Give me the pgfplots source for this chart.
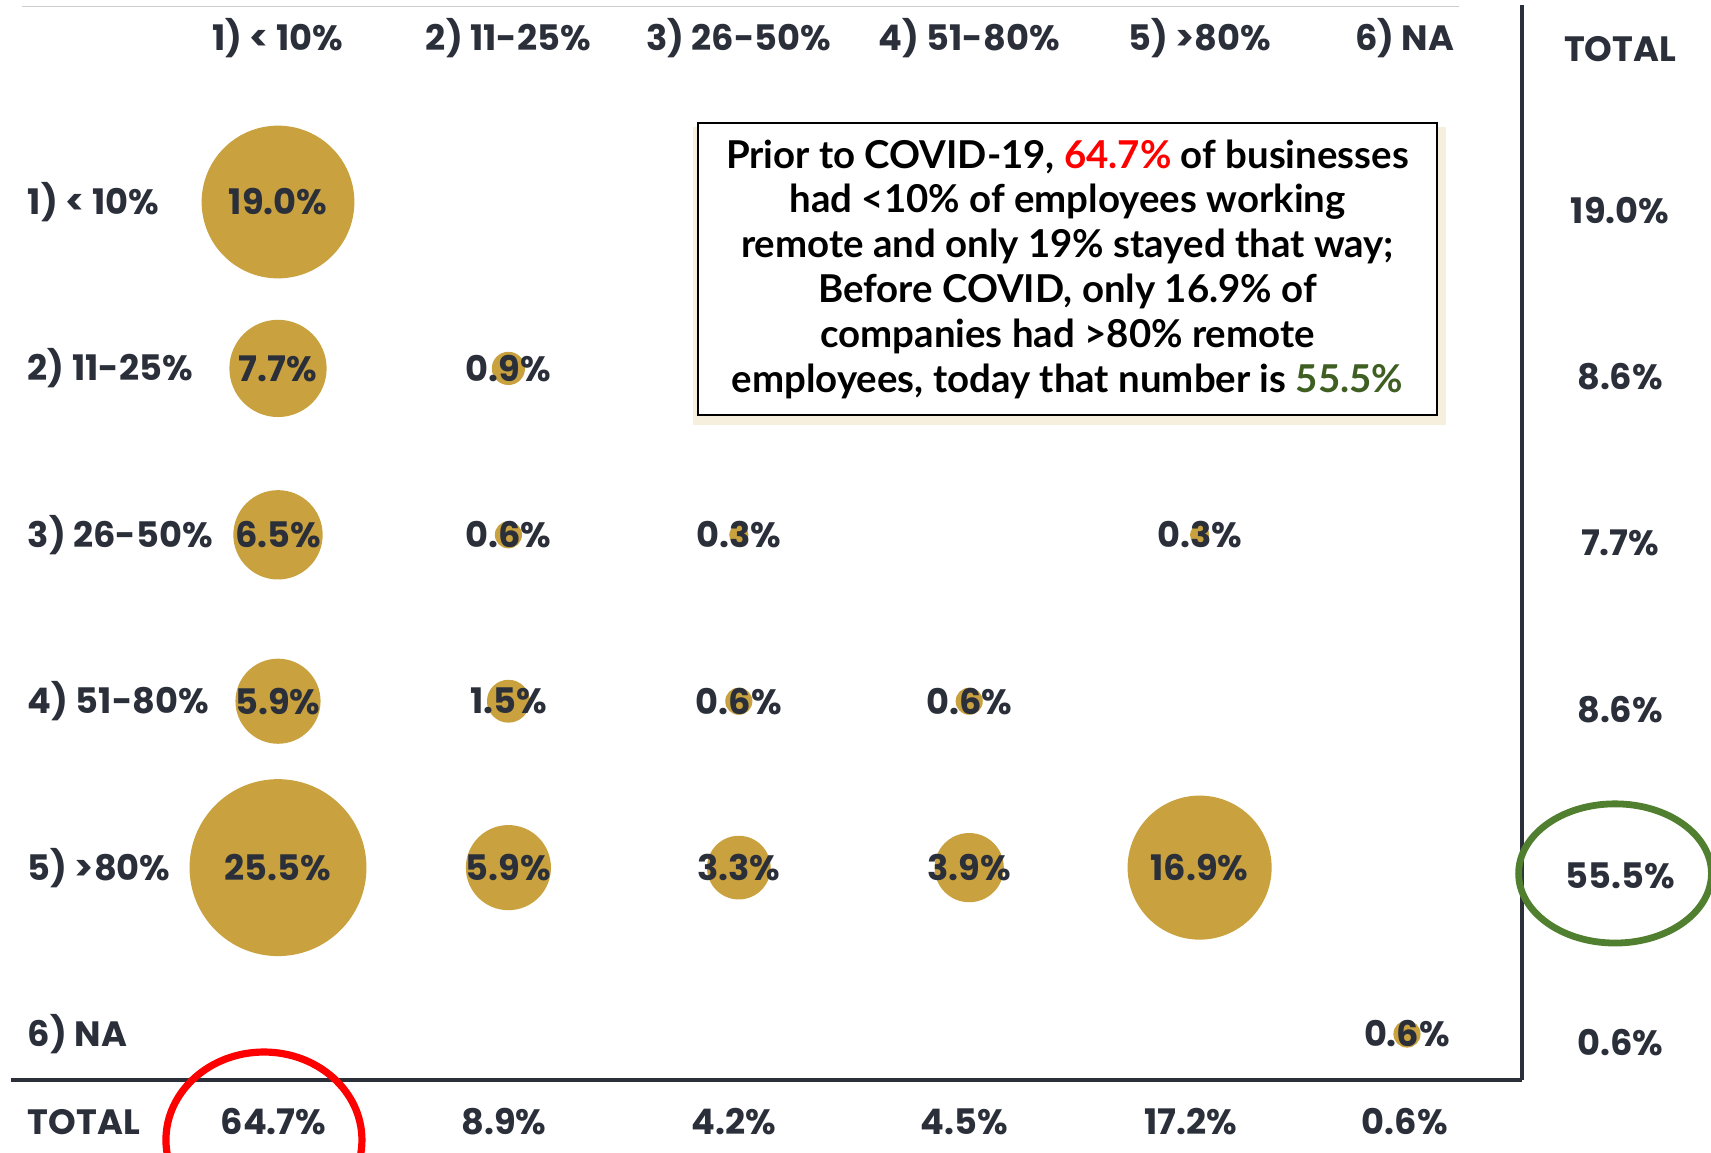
\documentclass[border=0pt]{standalone}
\usepackage{fontspec}
\setmainfont{Poppins}
\newfontfamily\boxfont{Lato}
\usepackage{pgfplots}
\usepackage{pgfplotstable}
\pgfplotsset{compat=1.18}
\usetikzlibrary{shadows}

\definecolor{gold}{HTML}{C9A23F}
\definecolor{ink}{HTML}{2A2F3A}
\definecolor{ringgreen}{HTML}{4F7F2F}
\definecolor{txtgreen}{HTML}{3F5E22}

\newcommand\lab{\fontsize{8.8}{10}\selectfont\bfseries}

% col = column (before covid), row = today; x of the NA column is 4.9
\pgfplotstableread{
col row v
0 0 19.0
0 1 7.7
1 1 0.9
0 2 6.5
1 2 0.6
2 2 0.3
4 2 0.3
0 3 5.9
1 3 1.5
2 3 0.6
3 3 0.6
0 4 25.5
1 4 5.9
2 4 3.3
3 4 3.9
4 4 16.9
4.9 5 0.6
}\cells

\pgfplotstableread{
col row v
5.825 0.05 19.0
5.825 1.05 8.6
5.825 2.05 7.7
5.825 3.05 8.6
5.825 4.05 55.5
5.825 5.05 0.6
}\rowtot

\pgfplotstableread{
col row v
-0.02 5.529 64.7
0.98 5.529 8.9
1.98 5.529 4.2
2.98 5.529 4.5
3.96 5.529 17.2
4.89 5.529 0.6
}\coltot

\tikzset{hd/.style={text=ink, font=\lab, inner sep=0pt},
         rl/.style={text=ink, font=\lab, inner sep=0pt, anchor=west}}
\pgfplotsset{pct/.style={
  point meta=\thisrow{v},
  nodes near coords={\pgfmathprintnumber[fixed,fixed zerofill,precision=1]{\pgfplotspointmeta}\%},
  every node near coord/.append style={anchor=center, inner sep=0pt, text=ink, font=\lab}}}

\begin{document}
\begin{tikzpicture}
\useasboundingbox (0,0) rectangle (427.75pt,288.25pt);
\begin{axis}[
  at={(0,0)}, anchor=south west,
  width=427.75pt, height=288.25pt, scale only axis,
  hide axis, y dir=reverse,
  xmin=-1.2066, xmax=6.2196, ymin=-1.214, ymax=5.715,
  /pgf/number format/assume math mode=true,
]
% frame lines
\draw[black!20, line width=0.3pt] (axis cs:-1.111,-1.175) -- (axis cs:5.126,-1.175);
\draw[ink, line width=0.9pt] (axis cs:5.399,-1.181) -- (axis cs:5.399,5.276);
\draw[ink, line width=0.9pt] (axis cs:-1.159,5.276) -- (axis cs:5.399,5.276);

% bubbles (area proportional to share); meta range 0..1000 keeps the
% transformed meta equal to the share itself
\addplot[scatter, only marks, mark=*,
  point meta=\thisrow{v}, point meta min=0, point meta max=1000,
  scatter/use mapped color={draw opacity=0, fill=gold},
  scatter/@pre marker code/.append style={/tikz/mark size={4.38*sqrt(\pgfplotspointmetatransformed)}},
] table[x=col, y=row] {\cells};
% their labels
\addplot[draw=none, mark=none, pct] table[x=col, y=row] {\cells};

% totals
\addplot[draw=none, mark=none, pct] table[x=col, y=row] {\rowtot};
\addplot[draw=none, mark=none, pct] table[x=col, y=row] {\coltot};

% column headers
\node[hd] at (axis cs:0,-0.986) {1) < 10\%};
\node[hd] at (axis cs:1,-0.986) {2) 11-25\%};
\node[hd] at (axis cs:2,-0.986) {3) 26-50\%};
\node[hd] at (axis cs:3,-0.986) {4) 51-80\%};
\node[hd] at (axis cs:4,-0.986) {5) >80\%};
\node[hd] at (axis cs:4.89,-0.986) {6) NA};
\node[hd] at (axis cs:5.825,-0.92) {TOTAL};

% row labels
\node[rl] at (axis cs:-1.089,0) {1) < 10\%};
\node[rl] at (axis cs:-1.089,1) {2) 11-25\%};
\node[rl] at (axis cs:-1.089,2) {3) 26-50\%};
\node[rl] at (axis cs:-1.089,3) {4) 51-80\%};
\node[rl] at (axis cs:-1.089,4) {5) >80\%};
\node[rl] at (axis cs:-1.089,5) {6) NA};
\node[rl] at (axis cs:-1.089,5.529) {TOTAL};

% callout
\node[draw=black, line width=0.5pt, fill=white, align=center, inner sep=2pt,
  font=\boxfont\bfseries\fontsize{9.6}{11.2}\selectfont,
  minimum width=184.75pt, minimum height=73pt,
  drop shadow={shadow xshift=0.5pt, shadow yshift=-1.8pt, shadow scale=1.02, fill=gold!25, opacity=0.7}]
  at (axis cs:3.4265,0.4025)
  {Prior to COVID-19, \textcolor{red}{64.7\%} of businesses\\
   had <10\% of employees working\\
   remote and only 19\% stayed that way;\\
   Before COVID, only 16.9\% of\\
   companies had >80\% remote\\
   employees, today that number is \textcolor{txtgreen}{55.5\%}};

% highlight rings
\draw[red, line width=1.8pt] (axis cs:-0.061,5.637) ellipse [x radius=24.5pt, y radius=22pt];
\draw[ringgreen, line width=1.7pt] (axis cs:5.803,4.035) ellipse [x radius=24.1pt, y radius=17.4pt];
\end{axis}
\end{tikzpicture}
\end{document}
